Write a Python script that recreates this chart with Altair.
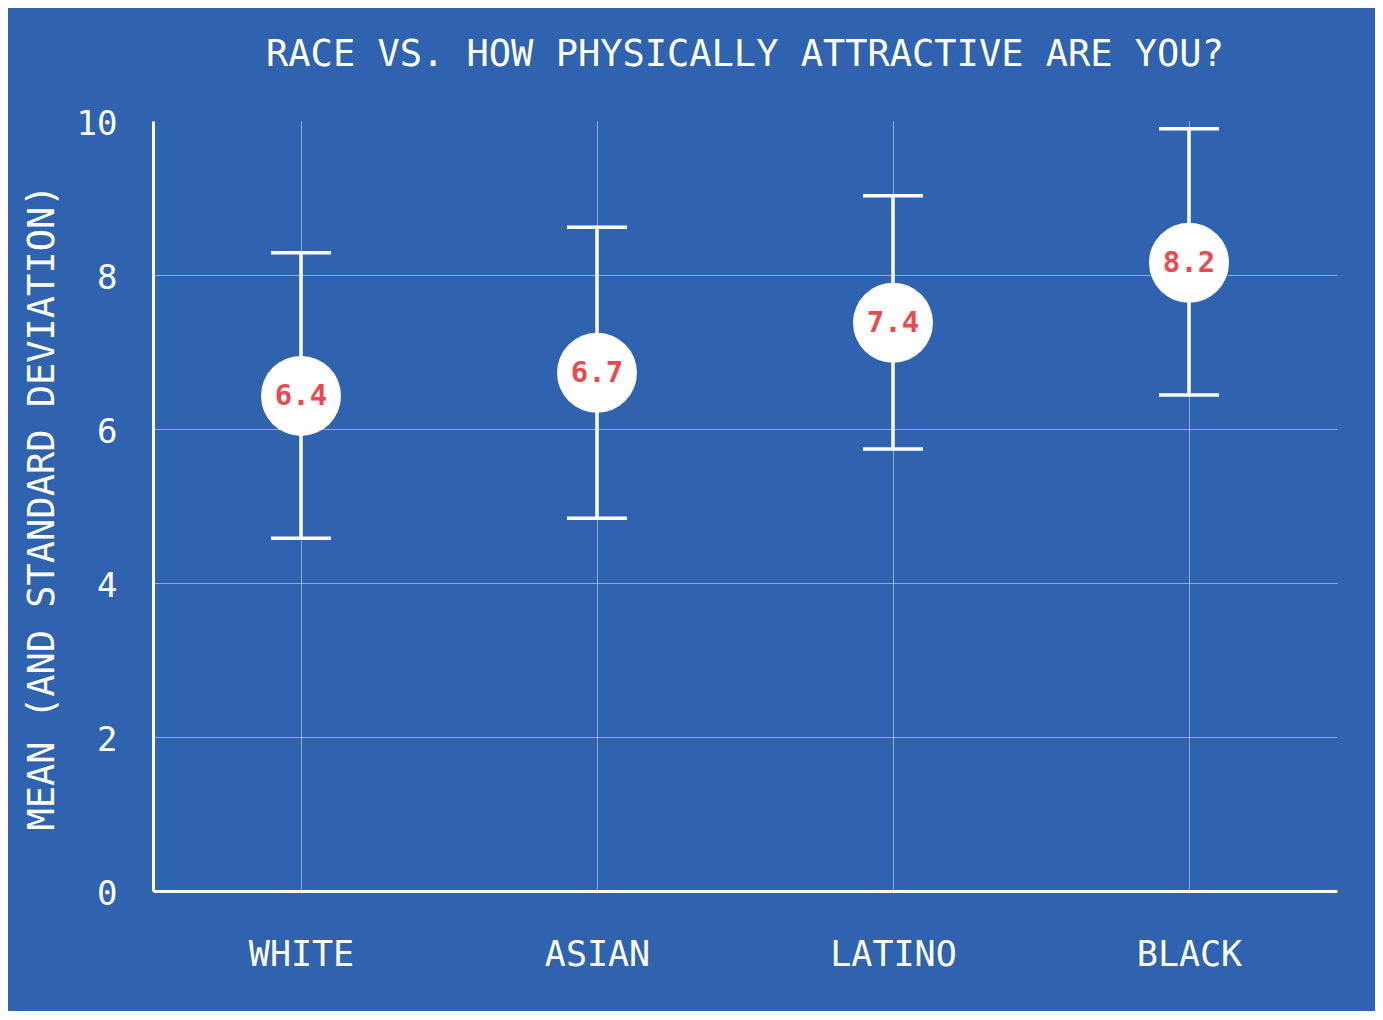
import altair as alt
import pandas as pd

races = ["WHITE", "ASIAN", "LATINO", "BLACK"]
means = [6.43, 6.73, 7.38, 8.16]
mean_labels = ["6.4", "6.7", "7.4", "8.2"]
lower = [4.58, 4.84, 5.74, 6.44]
upper = [8.29, 8.62, 9.03, 9.90]

df = pd.DataFrame({"race": races, "mean": means, "label": mean_labels,
                   "lo": lower, "hi": upper})

BG = "#2F63AF"
RED = "#E84B4F"
MONO = "DejaVu Sans Mono"

x = alt.X("race:N", sort=races, title=None,
          scale=alt.Scale(type="point", padding=0.5),
          axis=alt.Axis(labelAngle=0, labelFontSize=35, labelFont=MONO, labelColor="white",
                        labelPadding=46, ticks=False, domainColor="white", domainWidth=3,
                        grid=True, gridColor="white", gridOpacity=0.45, gridWidth=1))
xs = alt.X("race:N", sort=races)
yscale = alt.Scale(domain=[0, 10])
yaxis = alt.Axis(values=[0, 2, 4, 6, 8, 10], format="d", labelFontSize=34, labelFont=MONO,
                 labelColor="white", labelPadding=36, labelOffset=3, ticks=False,
                 domainColor="white", domainWidth=3,
                 grid=True, gridColor="white", gridWidth=1,
                 gridOpacity={"condition": {"test": "datum.value === 10 || datum.value === 0", "value": 0}, "value": 0.45},
                 title="MEAN (AND STANDARD DEVIATION)", titleFont=MONO, titleFontSize=37,
                 titleFontWeight="normal", titleColor="white", titleX=-100, titleY=386,
                 titleBaseline="alphabetic", titleAngle=-90, titleAlign="center")

base = alt.Chart(df)
rules = base.mark_rule(color="white", strokeWidth=3.5).encode(
    x=x, y=alt.Y("lo:Q", scale=yscale, axis=yaxis), y2="hi:Q")
cap_lo = base.mark_tick(color="white", opacity=1, thickness=3.5, size=60, orient="horizontal").encode(
    x=xs, y="lo:Q")
cap_hi = base.mark_tick(color="white", opacity=1, thickness=3.5, size=60, orient="horizontal").encode(
    x=xs, y="hi:Q")
dots = base.mark_point(filled=True, shape="circle", color="white", opacity=1,
                       size=6400, strokeWidth=0).encode(x=xs, y="mean:Q")
text = base.mark_text(font=MONO, fontSize=29, fontWeight="bold", color=RED,
                      baseline="middle", align="center").encode(
    x=xs, y="mean:Q", text="label:N")

chart = alt.layer(rules, cap_lo, cap_hi, dots, text).properties(
    width=1184, height=770,
    title=alt.TitleParams("RACE VS. HOW PHYSICALLY ATTRACTIVE ARE YOU?", font=MONO,
                          fontSize=37, fontWeight="normal", color="white",
                          anchor="middle", offset=4, baseline="alphabetic"),
    autosize=alt.AutoSizeParams(type="none"),
    padding={"left": 145, "top": 113, "right": 38, "bottom": 120},
    background=BG,
).configure_view(stroke=None)

chart.save("out.html", embed_options={"renderer": "svg", "actions": False})
